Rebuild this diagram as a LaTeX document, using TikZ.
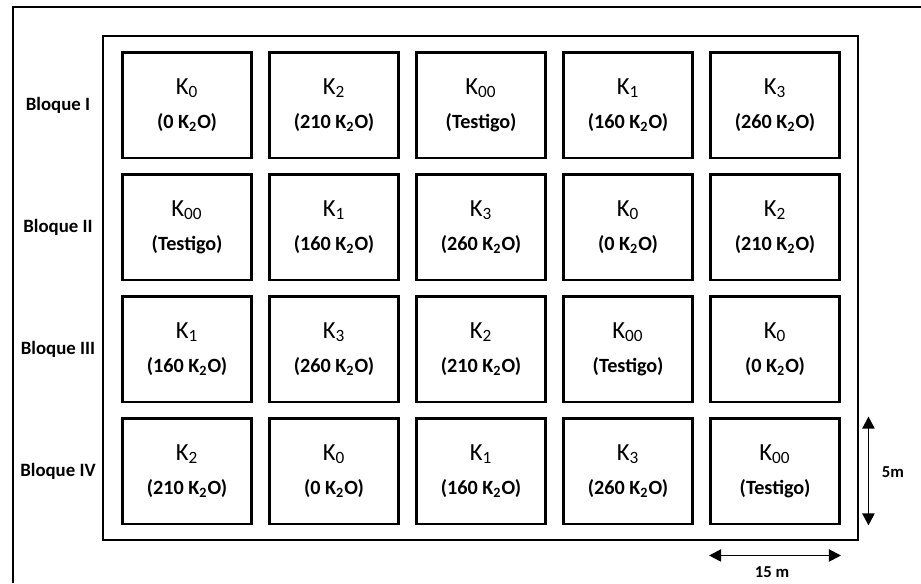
\documentclass[tikz,border=0pt]{standalone}
\usepackage{fontspec}
\setmainfont{Carlito}
\usepackage{tikz}
\usetikzlibrary{arrows.meta,positioning}
\tikzset{
  %% one plot of the field
  parcela/.style={draw, line width=1.7pt, minimum width=2.58cm,
    minimum height=2.12cm, inner sep=0pt, align=center,
    font=\fontsize{11.5}{19.5}\selectfont\bfseries},
  %% block names on the left
  bloque/.style={font=\fontsize{10.7}{12}\selectfont\bfseries},
  cota/.style={{Triangle[length=2.4mm,width=2.4mm]}-{Triangle[length=2.4mm,width=2.4mm]},
    line width=1.1pt},
  cotalabel/.style={font=\fontsize{9.5}{11}\selectfont\bfseries},
}
\newcommand{\trat}[2]{{\mdseries\fontsize{14}{19.5}\selectfont K\textsubscript{#1}}\\(#2)}
\newcommand{\dosis}[1]{#1 K\textsubscript{2}O}

\begin{document}
\begin{tikzpicture}[x=0.02cm,y=-0.02cm]
  \useasboundingbox (0,0) rectangle (921,583);
  %% frames
  \draw[line width=1.1pt] (13,583) -- (13,7) -- (921,7);
  \draw[line width=1.2pt] (103,36) rectangle (858,540);
  %% Bloque I
  \node[parcela] (p11) at (187,105) {\trat{0}{\dosis{0}}};
  \node[parcela] (p12) at (334,105) {\trat{2}{\dosis{210}}};
  \node[parcela] (p13) at (481,105) {\trat{00}{Testigo}};
  \node[parcela] (p14) at (628,105) {\trat{1}{\dosis{160}}};
  \node[parcela] (p15) at (775,105) {\trat{3}{\dosis{260}}};
  %% Bloque II
  \node[parcela] (p21) at (187,227) {\trat{00}{Testigo}};
  \node[parcela] (p22) at (334,227) {\trat{1}{\dosis{160}}};
  \node[parcela] (p23) at (481,227) {\trat{3}{\dosis{260}}};
  \node[parcela] (p24) at (628,227) {\trat{0}{\dosis{0}}};
  \node[parcela] (p25) at (775,227) {\trat{2}{\dosis{210}}};
  %% Bloque III
  \node[parcela] (p31) at (187,349) {\trat{1}{\dosis{160}}};
  \node[parcela] (p32) at (334,349) {\trat{3}{\dosis{260}}};
  \node[parcela] (p33) at (481,349) {\trat{2}{\dosis{210}}};
  \node[parcela] (p34) at (628,349) {\trat{00}{Testigo}};
  \node[parcela] (p35) at (775,349) {\trat{0}{\dosis{0}}};
  %% Bloque IV
  \node[parcela] (p41) at (187,471) {\trat{2}{\dosis{210}}};
  \node[parcela] (p42) at (334,471) {\trat{0}{\dosis{0}}};
  \node[parcela] (p43) at (481,471) {\trat{1}{\dosis{160}}};
  \node[parcela] (p44) at (628,471) {\trat{3}{\dosis{260}}};
  \node[parcela] (p45) at (775,471) {\trat{00}{Testigo}};
  %% block labels
  \node[bloque] (b1) at (58,105) {Bloque I};
  \node[bloque] (b2) at (58,227) {Bloque II};
  \node[bloque] (b3) at (58,349) {Bloque III};
  \node[bloque] (b4) at (58,471) {Bloque IV};
  %% plot size
  \coordinate (vt) at ([xshift=0.55cm]p45.north east);
  \coordinate (vb) at ([xshift=0.55cm]p45.south east);
  \coordinate (hl) at ([yshift=-0.6cm]p45.south west);
  \coordinate (hr) at ([yshift=-0.6cm]p45.south east);
  \draw[cota] (vt) -- (vb);
  \draw[cota] (hl) -- (hr);
  \node[cotalabel] (alto) at (893,472) {5m};
  \node[cotalabel] (ancho) at (772,572) {15 m};
\end{tikzpicture}
\end{document}
